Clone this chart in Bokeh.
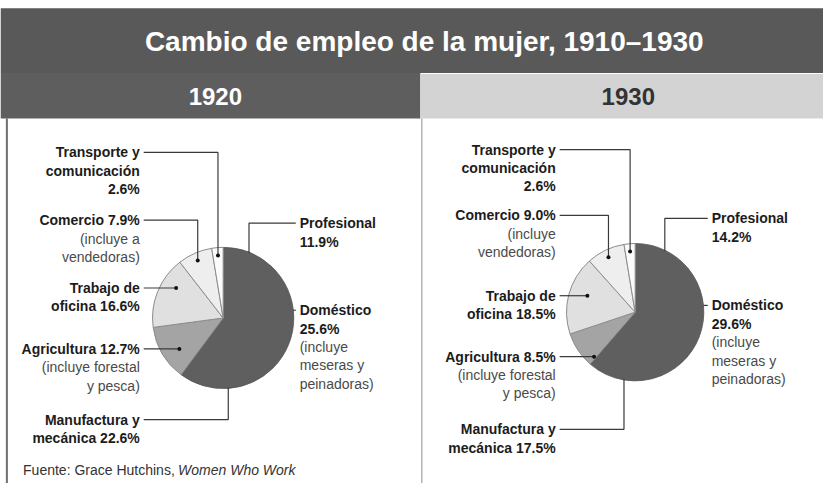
import numpy as np
from bokeh.plotting import figure
from bokeh.models import Range1d
from bokeh.embed import file_html
from bokeh.resources import INLINE
from bokeh.core.properties import value

# ---------------- data ----------------
title_text = "Cambio de empleo de la mujer, 1910–1930"
years = ["1920", "1930"]
# slices in clockwise order starting at 12 o'clock
categories = ["Profesional", "Doméstico", "Manufactura y mecánica", "Agricultura",
              "Trabajo de oficina", "Comercio", "Transporte y comunicación"]
share_1920 = [11.9, 25.6, 22.6, 12.7, 16.6, 7.9, 2.6]
share_1930 = [14.2, 29.6, 17.5, 8.5, 18.5, 9.0, 2.6]
slice_colors = ["#5f5f5f", "#5f5f5f", "#5f5f5f", "#a4a4a4", "#e0e0e0", "#eeeeee", "#fbfbfb"]
comercio_note = {"1920": ["(incluye a", "vendedoras)"], "1930": ["(incluye", "vendedoras)"]}
source_note = "Fuente: Grace Hutchins, "
source_title = "Women Who Work"

# ---------------- layout (reference pixel coords, y downward) ----------------
W, H = 823, 483
IMG_W, IMG_H = 839, 499


def Y(y):
    return IMG_H - y


panels = {
    "1920": dict(cx=227, cy=328, r=72, xr=142, xl=305,
                 ly={"Transporte y comunicación": 157, "Comercio": 227, "Trabajo de oficina": 297,
                     "Agricultura": 360, "Manufactura y mecánica": 433,
                     "Profesional": 230, "Doméstico": 320}),
    "1930": dict(cx=647, cy=322, r=70, xr=566, xl=725,
                 ly={"Transporte y comunicación": 154, "Comercio": 222, "Trabajo de oficina": 305,
                     "Agricultura": 368, "Manufactura y mecánica": 443,
                     "Profesional": 225, "Doméstico": 315}),
}
shares = {"1920": share_1920, "1930": share_1930}

FONT = "Liberation Sans"
LINE = 19
TXT = "#1c1c1c"
NOTE = "#4a4a4a"
LEAD = "#3a3a3a"

p = figure(width=W, height=H, x_range=Range1d(0, IMG_W), y_range=Range1d(0, IMG_H),
           output_backend="svg", toolbar_location=None, min_border=0)
p.axis.visible = False
p.grid.visible = False
p.outline_line_color = None
p.background_fill_color = "white"
p.border_fill_color = "white"

# header bars
p.quad(left=[0], right=[845], top=[Y(8)], bottom=[Y(75)], fill_color="#595959", line_color=None)
p.quad(left=[0], right=[428], top=[Y(75)], bottom=[Y(122)], fill_color="#5e5e5e", line_color=None)
p.quad(left=[428], right=[845], top=[Y(76)], bottom=[Y(122)], fill_color="#d3d3d3", line_color=None)
p.line([6.5, 6.5], [Y(122), Y(499)], line_color="#6e6e6e", line_width=2)
p.line([429.5, 429.5], [Y(122), Y(499)], line_color="#b5b5b5", line_width=1.5)

p.text(x=[432], y=[Y(42)], text=[title_text], text_color="white", text_font=value(FONT),
       text_font_style="bold", text_font_size="28px", text_align="center", text_baseline="middle")
p.text(x=[219], y=[Y(99)], text=[years[0]], text_color="white", text_font=value(FONT),
       text_font_style="bold", text_font_size="24px", text_align="center", text_baseline="middle")
p.text(x=[640], y=[Y(99)], text=[years[1]], text_color="#333333", text_font=value(FONT),
       text_font_style="bold", text_font_size="24px", text_align="center", text_baseline="middle")


def put_lines(x, y0, lines, align):
    for i, (t, bold) in enumerate(lines):
        p.text(x=[x], y=[Y(y0 + i * LINE)], text=[t], text_color=TXT if bold else NOTE,
               text_font=value(FONT), text_font_style="bold" if bold else "normal",
               text_font_size="14px", text_align=align, text_baseline="middle")


for yr in years:
    cfg = panels[yr]
    vals = np.array(shares[yr])
    frac = vals / vals.sum()
    cum = np.concatenate([[0], np.cumsum(frac)])
    cx, cy, r = cfg["cx"], cfg["cy"], cfg["r"]
    start = np.pi / 2 - cum[1:] * 2 * np.pi
    end = np.pi / 2 - cum[:-1] * 2 * np.pi
    mids = (cum[1:] + cum[:-1]) / 2  # fraction clockwise from top
    dark = [0, 1, 2]
    light = [3, 4, 5, 6]
    p.wedge(x=[cx] * 3, y=[Y(cy)] * 3, radius=r, start_angle=start[dark], end_angle=end[dark],
            fill_color=[slice_colors[i] for i in dark], line_color="#555555", line_width=0.8)
    p.wedge(x=[cx] * 3, y=[Y(cy)] * 3, radius=r - 0.8, start_angle=start[dark], end_angle=end[dark],
            fill_color=[slice_colors[i] for i in dark], line_color=None)
    p.wedge(x=[cx] * 4, y=[Y(cy)] * 4, radius=r, start_angle=start[light], end_angle=end[light],
            fill_color=[slice_colors[i] for i in light], line_color="#8c8c8c", line_width=1)

    def pt(i, k):
        a = mids[i] * 2 * np.pi
        return cx + k * r * np.sin(a), cy - k * r * np.cos(a)

    ly = cfg["ly"]
    xr, xl = cfg["xr"], cfg["xl"]
    v = dict(zip(categories, vals))
    dots_x, dots_y = [], []

    # Transporte y comunicación / Comercio : horizontal then down to dot
    for name in ["Transporte y comunicación", "Comercio"]:
        i = categories.index(name)
        dx, dy = pt(i, 0.9)
        yy = ly[name]
        p.line([xr + 4, dx, dx], [Y(yy), Y(yy), Y(dy)], line_color=LEAD, line_width=1.2)
        dots_x.append(dx); dots_y.append(dy)
    # Trabajo de oficina / Agricultura : horizontal to dot
    for name in ["Trabajo de oficina", "Agricultura"]:
        i = categories.index(name)
        dx, _ = pt(i, 0.72)
        yy = ly[name]
        p.line([xr + 4, dx], [Y(yy), Y(yy)], line_color=LEAD, line_width=1.2)
        dots_x.append(dx); dots_y.append(yy)
    # Manufactura: horizontal then up to pie edge
    i = categories.index("Manufactura y mecánica")
    ex, ey = pt(i, 1.0)
    yy = ly["Manufactura y mecánica"]
    p.line([xr + 4, ex, ex], [Y(yy), Y(yy), Y(ey)], line_color=LEAD, line_width=1.2)
    # Profesional: from label left, then down to pie edge
    i = categories.index("Profesional")
    ex, ey = pt(i, 1.0)
    yy = ly["Profesional"]
    p.line([xl - 4, ex, ex], [Y(yy), Y(yy), Y(ey)], line_color=LEAD, line_width=1.2)
    # Doméstico: short tick from pie edge
    yy = ly["Doméstico"]
    ex = cx + np.sqrt(max(r * r - (yy - cy) ** 2, 0))
    p.line([ex, xl - 4], [Y(yy), Y(yy)], line_color=LEAD, line_width=1.2)

    p.scatter(x=dots_x, y=[Y(d) for d in dots_y], size=4, fill_color="#111111", line_color=None)

    # labels
    put_lines(xr, ly["Transporte y comunicación"],
              [("Transporte y", True), ("comunicación", True), (f"{v['Transporte y comunicación']:.1f}%", True)], "right")
    put_lines(xr, ly["Comercio"],
              [(f"Comercio {v['Comercio']:.1f}%", True)] + [(t, False) for t in comercio_note[yr]], "right")
    put_lines(xr, ly["Trabajo de oficina"],
              [("Trabajo de", True), (f"oficina {v['Trabajo de oficina']:.1f}%", True)], "right")
    put_lines(xr, ly["Agricultura"],
              [(f"Agricultura {v['Agricultura']:.1f}%", True), ("(incluye forestal", False), ("y pesca)", False)], "right")
    put_lines(xr, ly["Manufactura y mecánica"],
              [("Manufactura y", True), (f"mecánica {v['Manufactura y mecánica']:.1f}%", True)], "right")
    put_lines(xl, ly["Profesional"],
              [("Profesional", True), (f"{v['Profesional']:.1f}%", True)], "left")
    put_lines(xl, ly["Doméstico"],
              [("Doméstico", True), (f"{v['Doméstico']:.1f}%", True), ("(incluye", False),
               ("meseras y", False), ("peinadoras)", False)], "left")

# source line
p.text(x=[23], y=[Y(485)], text=[source_note], text_color="#333333", text_font=value(FONT),
       text_font_size="14px", text_align="left", text_baseline="middle")
p.text(x=[23 + 158], y=[Y(485)], text=[source_title], text_color="#333333", text_font=value(FONT),
       text_font_style="italic", text_font_size="14px", text_align="left", text_baseline="middle")

open("out.html", "w").write(file_html(p, INLINE))
